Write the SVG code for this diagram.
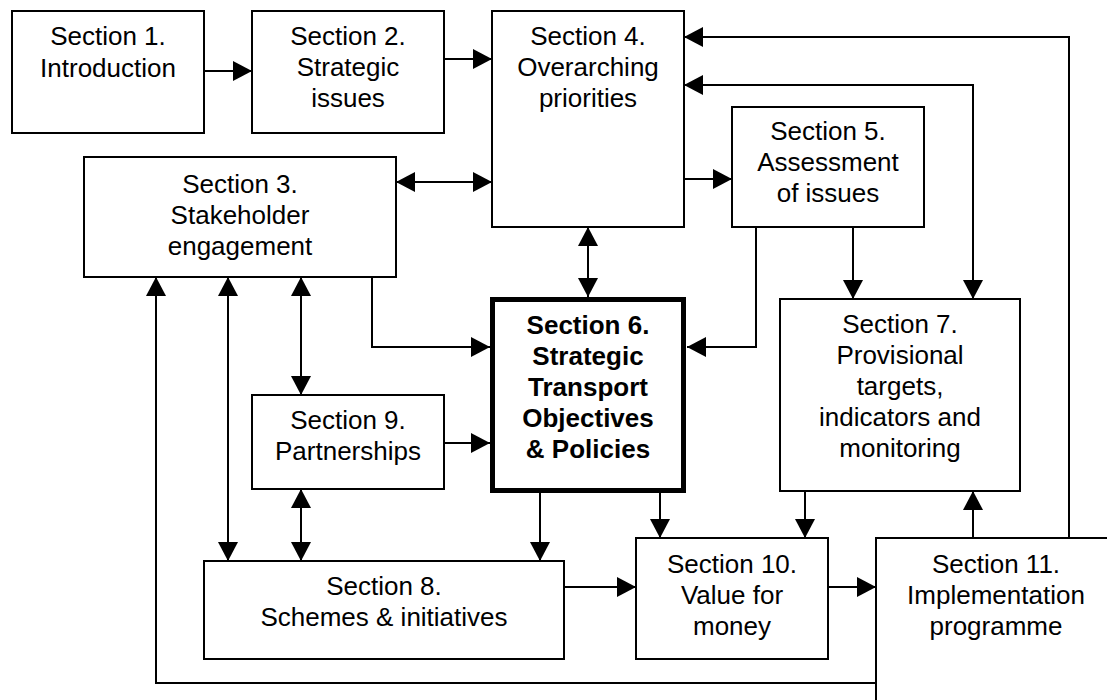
<svg xmlns="http://www.w3.org/2000/svg" width="1107" height="700" viewBox="0 0 1107 700">
<style>
.box{fill:#fff;stroke:#000;stroke-width:2}
.main{fill:#fff;stroke:#000;stroke-width:5}
.t{font-family:"Liberation Sans",Arial,sans-serif;font-size:26px;text-anchor:middle;fill:#000}
.b{font-weight:bold}
.c{fill:none;stroke:#000;stroke-width:2}
.e{marker-end:url(#ah)}
.d{marker-start:url(#ah);marker-end:url(#ah)}
</style>
<defs>
<marker id="ah" markerUnits="userSpaceOnUse" markerWidth="19" markerHeight="20" refX="19" refY="10" orient="auto-start-reverse" viewBox="0 0 19 20">
<path d="M0,0 L19,10 L0,20 z" fill="#000"/>
</marker>
</defs>
<rect width="1107" height="700" fill="#fff"/>
<g id="connectors">
<path class="c e" d="M204,71 H252"/>
<path class="c e" d="M444,59 H492"/>
<path class="c d" d="M396,182 H492"/>
<path class="c e" d="M684,179 H732"/>
<path class="c e" d="M1069,540 V37 H684"/>
<path class="c d" d="M684,85 H973 V299"/>
<path class="c d" d="M588,227 V297"/>
<path class="c e" d="M853,227 V299"/>
<path class="c e" d="M756,227 V347 H687"/>
<path class="c e" d="M372,277 V347 H490"/>
<path class="c e" d="M444,443 H490"/>
<path class="c e" d="M876,683 H156 V277"/>
<path class="c d" d="M228,277 V561"/>
<path class="c d" d="M301,277 V395"/>
<path class="c d" d="M301,489 V561"/>
<path class="c e" d="M540,493 V561"/>
<path class="c e" d="M660,493 V538"/>
<path class="c e" d="M805,491 V538"/>
<path class="c e" d="M973,538 V491"/>
<path class="c e" d="M564,587 H636"/>
<path class="c e" d="M828,587 H876"/>
</g>
<g id="s1"><rect class="box" x="12" y="11" width="192" height="122"/>
<text class="t" x="108" y="45">Section 1.</text><text class="t" x="108" y="77">Introduction</text></g>
<g id="s2"><rect class="box" x="252" y="11" width="192" height="122"/>
<text class="t" x="348" y="45">Section 2.</text><text class="t" x="348" y="76">Strategic</text><text class="t" x="348" y="107">issues</text></g>
<g id="s3"><rect class="box" x="84" y="157" width="312" height="120"/>
<text class="t" x="240" y="193">Section 3.</text><text class="t" x="240" y="224">Stakeholder</text><text class="t" x="240" y="255">engagement</text></g>
<g id="s4"><rect class="box" x="492" y="11" width="192" height="216"/>
<text class="t" x="588" y="45">Section 4.</text><text class="t" x="588" y="76">Overarching</text><text class="t" x="588" y="107">priorities</text></g>
<g id="s5"><rect class="box" x="732" y="107" width="192" height="120"/>
<text class="t" x="828" y="140">Section 5.</text><text class="t" x="828" y="171">Assessment</text><text class="t" x="828" y="202">of issues</text></g>
<g id="s6"><rect class="main" x="492.5" y="299.5" width="191" height="191"/>
<text class="t b" x="588" y="334">Section 6.</text><text class="t b" x="588" y="365">Strategic</text><text class="t b" x="588" y="396">Transport</text><text class="t b" x="588" y="427">Objectives</text><text class="t b" x="588" y="458">&amp; Policies</text></g>
<g id="s7"><rect class="box" x="780" y="299" width="240" height="192"/>
<text class="t" x="900" y="333">Section 7.</text><text class="t" x="900" y="364">Provisional</text><text class="t" x="900" y="395">targets,</text><text class="t" x="900" y="426">indicators and</text><text class="t" x="900" y="457">monitoring</text></g>
<g id="s9"><rect class="box" x="252" y="395" width="192" height="94"/>
<text class="t" x="348" y="429">Section 9.</text><text class="t" x="348" y="460">Partnerships</text></g>
<g id="s8"><rect class="box" x="204" y="561" width="360" height="98"/>
<text class="t" x="384" y="595">Section 8.</text><text class="t" x="384" y="626">Schemes &amp; initiatives</text></g>
<g id="s10"><rect class="box" x="636" y="538" width="192" height="121"/>
<text class="t" x="732" y="573">Section 10.</text><text class="t" x="732" y="604">Value for</text><text class="t" x="732" y="635">money</text></g>
<g id="s11"><rect class="box" x="876" y="538" width="260" height="200"/>
<text class="t" x="996" y="573">Section 11.</text><text class="t" x="996" y="604">Implementation</text><text class="t" x="996" y="635">programme</text></g>
</svg>
